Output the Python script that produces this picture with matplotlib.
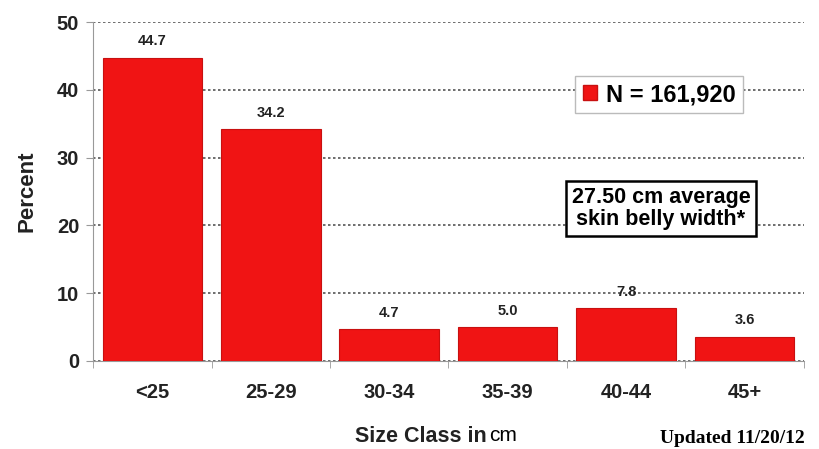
import matplotlib.pyplot as plt
from matplotlib.patches import Patch

# data
size_classes = ["<25", "25-29", "30-34", "35-39", "40-44", "45+"]
percents = [44.7, 34.2, 4.7, 5.0, 7.8, 3.6]
legend_label = "N = 161,920"
note_text = "27.50 cm average\nskin belly width*"

plt.rcParams['font.family'] = ['Liberation Sans', 'DejaVu Sans']

fig = plt.figure(figsize=(8.19, 4.49), dpi=100)
ax = fig.add_axes([0.1136, 0.196, 0.868, 0.755])

x = list(range(len(size_classes)))
bars = ax.bar(x, percents, width=0.84, color='#f01414', edgecolor='#c81010', linewidth=0.8, zorder=3)

for xi, v in zip(x, percents):
    ax.text(xi, v + 1.4, f"{v:.1f}", ha='center', va='bottom', fontsize=10.5, fontweight='bold', color='#222222', zorder=4)

ax.set_xlim(-0.5, len(size_classes) - 0.5)
ax.set_ylim(0, 50)
ax.set_yticks([0, 10, 20, 30, 40, 50])
ax.set_xticks(x)
ax.set_xticklabels(size_classes)
ax.set_xticks([i - 0.5 for i in range(len(size_classes) + 1)], minor=True)
ax.tick_params(axis='x', which='major', length=0, pad=16, labelsize=14.5)
ax.tick_params(axis='x', which='minor', length=5, color='#999999')
ax.tick_params(axis='y', length=5, color='#999999', labelsize=14.5, pad=5)
for lab in ax.get_xticklabels() + ax.get_yticklabels():
    lab.set_fontweight('bold')
    lab.set_color('#222222')

ax.yaxis.grid(True, linestyle=(0, (1.5, 1.5)), color='#555555', linewidth=1.2, zorder=0)
ax.set_axisbelow(True)
for s in ['top', 'right']:
    ax.spines[s].set_visible(False)
ax.spines['left'].set_color('#999999')
ax.spines['bottom'].set_color('#999999')

ax.set_ylabel("Percent", fontsize=16, fontweight='bold', color='#222222', labelpad=14)
fig.text(0.434, 0.005, "Size Class in", fontsize=15.5, fontweight='bold', color='#222222', ha='left', va='bottom')
fig.text(0.597, 0.008, "cm", fontsize=15, color='#000000', ha='left', va='bottom')
fig.text(0.983, 0.005, "Updated 11/20/12", fontsize=14, fontweight='bold', family=['Liberation Serif'],
         ha='right', va='bottom')

leg = ax.legend(handles=[Patch(facecolor='#f01414', edgecolor='#c81010')], labels=[legend_label],
                loc='upper left', bbox_to_anchor=(0.662, 0.875), prop={'weight': 'bold', 'size': 17},
                handlelength=0.6, handleheight=0.6, handletextpad=0.4, fancybox=False,
                edgecolor='#bbbbbb', framealpha=1, borderpad=0.3)

ax.text(0.799, 0.45, note_text, transform=ax.transAxes, ha='center', va='center', fontsize=15.5,
        fontweight='bold', linespacing=1.1, zorder=5,
        bbox=dict(boxstyle='square,pad=0.25', facecolor='white', edgecolor='black', linewidth=1.8))

fig.savefig("out.png", dpi=100)
